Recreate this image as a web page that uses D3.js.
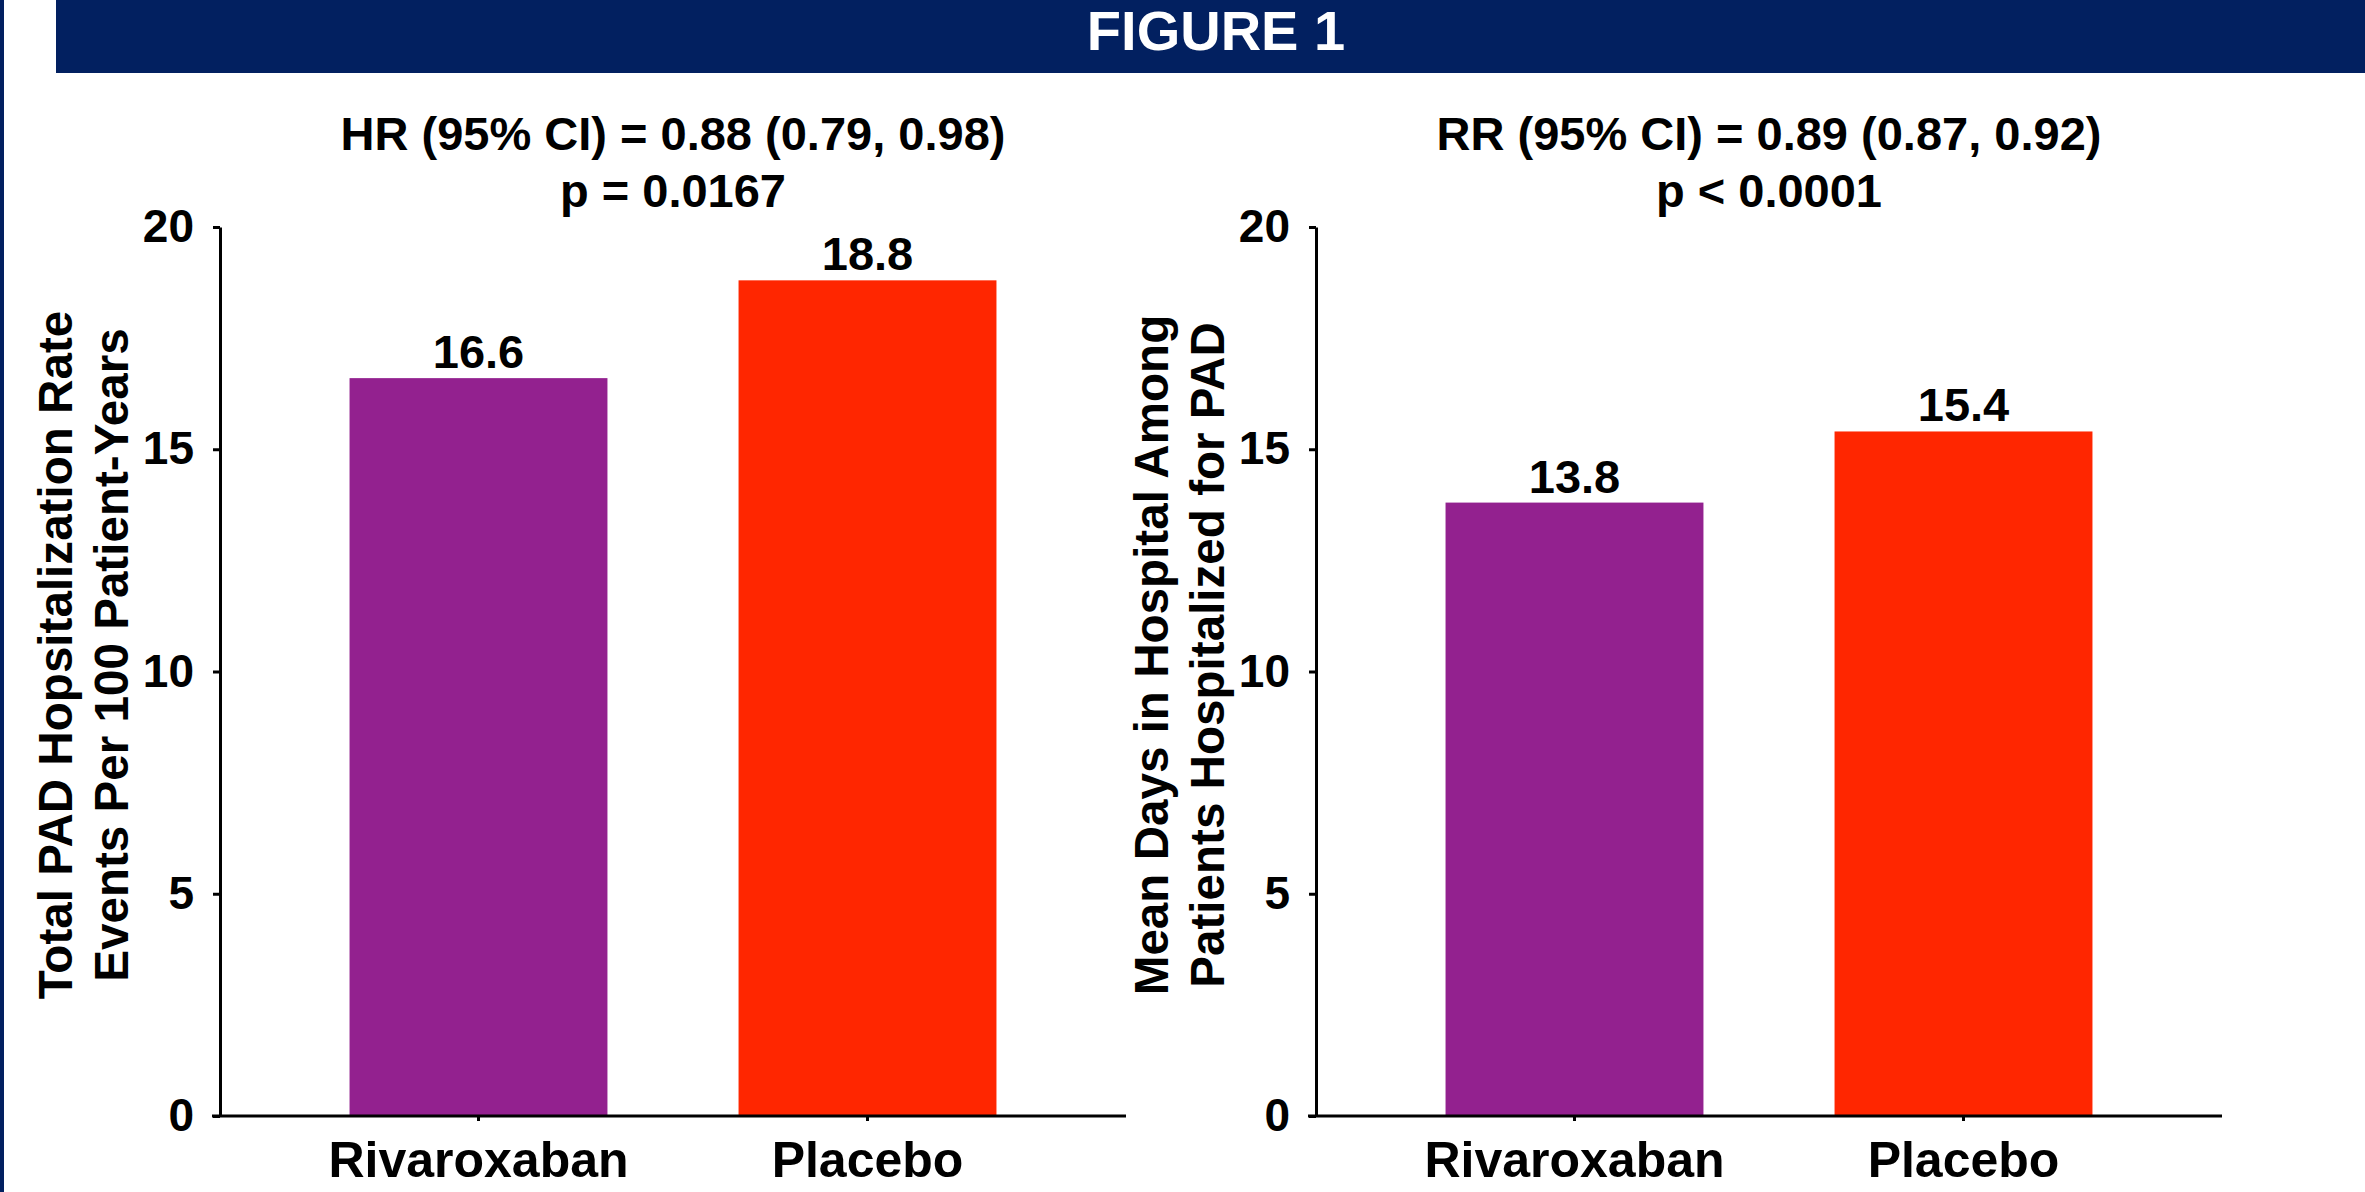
<!DOCTYPE html>
<html>
<head>
<meta charset="utf-8">
<script src="https://cdn.jsdelivr.net/npm/d3@7"></script>
<style>
  html, body { margin: 0; padding: 0; background: #ffffff; }
  svg { display: block; }
  text { font-family: "Liberation Sans", Arial, sans-serif; font-weight: bold; fill: #000; }
</style>
</head>
<body>
<svg id="chart" width="2365" height="1192"></svg>
<script>
// ---- data ----
const figureTitle = "FIGURE 1";
const categories = ["Rivaroxaban", "Placebo"];
const barColors = ["#93218f", "#ff2600"];
const leftValues = [16.6, 18.8];
const rightValues = [13.8, 15.4];
const yTicks = [0, 5, 10, 15, 20];
const leftTitle = ["HR (95% CI) = 0.88 (0.79, 0.98)", "p = 0.0167"];
const rightTitle = ["RR (95% CI) = 0.89 (0.87, 0.92)", "p < 0.0001"];
const leftYLabel = ["Total PAD Hopsitalization Rate", "Events Per 100 Patient-Years"];
const rightYLabel = ["Mean Days in Hospital Among", "Patients Hospitalized for PAD"];

const svg = d3.select("#chart");
const navy = "#022060";

// frame
svg.append("rect").attr("x", 0).attr("y", 0).attr("width", 4).attr("height", 1192).attr("fill", navy);
svg.append("rect").attr("x", 56).attr("y", 0).attr("width", 2365 - 56).attr("height", 73).attr("fill", navy);
svg.append("text").attr("x", 1216).attr("y", 50).attr("text-anchor", "middle")
  .style("font-size", "56px").style("fill", "#ffffff").text(figureTitle);

const yScale = d3.scaleLinear().domain([0, 20]).range([1116, 227]);

function panel(x0, x1, values, title, yLabel) {
  const g = svg.append("g");
  const x = d3.scaleBand().domain(categories).range([x0, x1]).paddingInner(0.337).paddingOuter(0.333);

  // bars
  g.selectAll("rect.bar").data(values).enter().append("rect")
    .attr("class", "bar")
    .attr("x", (d, i) => x(categories[i]))
    .attr("width", x.bandwidth())
    .attr("y", d => yScale(d))
    .attr("height", d => yScale(0) - yScale(d))
    .attr("fill", (d, i) => barColors[i]);

  // value labels
  g.selectAll("text.val").data(values).enter().append("text")
    .attr("class", "val")
    .attr("x", (d, i) => x(categories[i]) + x.bandwidth() / 2)
    .attr("y", d => yScale(d) - 10)
    .attr("text-anchor", "middle")
    .style("font-size", "47px")
    .text(d => d.toFixed(1));

  // y axis
  const yAxis = d3.axisLeft(yScale).tickValues(yTicks).tickSize(7).tickSizeOuter(0).tickPadding(19);
  const ya = g.append("g").attr("transform", `translate(${x0},0)`).call(yAxis);
  ya.selectAll("path, line").attr("stroke", "#000").attr("stroke-width", 3);
  ya.selectAll("text").style("font-size", "46px").style("font-family", "'Liberation Sans', Arial, sans-serif").style("font-weight", "bold").attr("fill", "#000");

  // x axis
  const xAxis = d3.axisBottom(x).tickSize(5).tickSizeOuter(0).tickPadding(20);
  const xa = g.append("g").attr("transform", `translate(0,${yScale(0)})`).call(xAxis);
  xa.select("path.domain").attr("d", `M${x0 - 8},0H${x1}`);
  xa.selectAll("path, line").attr("stroke", "#000").attr("stroke-width", 3);
  xa.selectAll("text").style("font-size", "50px").style("font-family", "'Liberation Sans', Arial, sans-serif").style("font-weight", "bold").attr("fill", "#000");

  // title
  const cx = (x0 + x1) / 2;
  title.forEach((t, i) => {
    g.append("text").attr("x", cx).attr("y", 150 + i * 57).attr("text-anchor", "middle")
      .style("font-size", "47px").text(t);
  });

  // y label
  yLabel.forEach((t, i) => {
    g.append("text")
      .attr("transform", `translate(${x0 - 148 + i * 56},655) rotate(-90)`)
      .attr("text-anchor", "middle")
      .style("font-size", "47.6px").text(t);
  });
}

panel(220, 1126, leftValues, leftTitle, leftYLabel);
panel(1316, 2222, rightValues, rightTitle, rightYLabel);
</script>
</body>
</html>
